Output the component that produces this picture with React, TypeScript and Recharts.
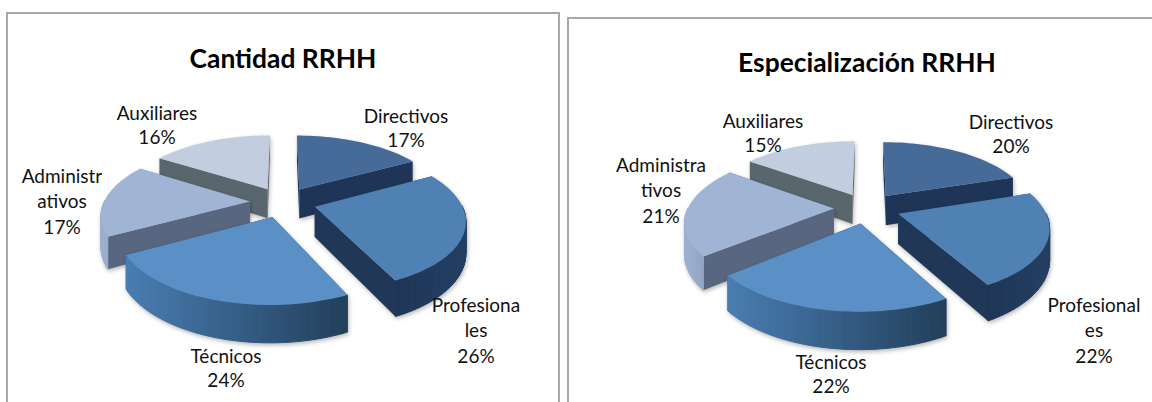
import { Pie, PieChart } from "recharts";

// Two exploded "3D" pies. Recharts only does flat sectors, so each slice is drawn
// by a custom shape that projects the sector's angles onto a tilted plane.

const CATEGORIES = ["Directivos", "Profesionales", "Técnicos", "Administrativos", "Auxiliares"];
const CANTIDAD_VALUES = [17, 26, 24, 17, 16];
const ESPECIALIZACION_VALUES = [20, 22, 22, 21, 15];
const CANTIDAD_LABELS = [["Directivos"], ["Profesiona", "les"], ["Técnicos"], ["Administr", "ativos"], ["Auxiliares"]];
const ESPECIALIZACION_LABELS = [["Directivos"], ["Profesional", "es"], ["Técnicos"], ["Administra", "tivos"], ["Auxiliares"]];

const TOP_COLORS = ["#466b99", "#4f81b5", "#5a90c6", "#a0b4d6", "#c2cde0"];
const EDGE_COLORS = ["#1f3557", "#203758", "#264560", "#58667f", "#5a666d"];
const WALL_LEFT = ["#2a4a70", "#1f3557", "#4a7eb3", "#9db0cf", "#a9b5c8"];
const WALL_RIGHT = ["#2a4a70", "#243f63", "#23405c", "#8497b8", "#a9b5c8"];

// back-to-front, so nearer slices cover the walls of the ones behind
const PAINT_ORDER = [0, 4, 3, 1, 2];

const RADIUS = 146;
const TILT = 0.459;
const PERSPECTIVE = 0.172;
const EXPLODE = 0.226;
const DEPTH = 30;
const RAD = Math.PI / 180;

const hex = (c: string) => [1, 3, 5].map((i) => parseInt(c.slice(i, i + 2), 16));
const mix = (a: string, b: string, t: number) => {
  const ca = hex(a);
  const cb = hex(b);
  return `rgb(${ca.map((v, i) => Math.round(v + (cb[i] - v) * t)).join(",")})`;
};

function project(cx: number, cy: number, mid: number, angle: number, r: number, drop: number) {
  const u = EXPLODE * Math.cos(mid * RAD) + r * Math.cos(angle * RAD);
  const v = -EXPLODE * Math.sin(mid * RAD) - r * Math.sin(angle * RAD);
  const s = 1 / (1 - PERSPECTIVE * v);
  return [cx + RADIUS * u * s, cy + RADIUS * TILT * v * s + DEPTH * s * drop];
}

const toPath = (pts: number[][]) =>
  "M" + pts.map((p) => `${p[0].toFixed(2)},${p[1].toFixed(2)}`).join("L") + "Z";

function Slice({ cx, cy, startAngle, endAngle, index }: any) {
  const mid = (startAngle + endAngle) / 2;
  const apex = project(cx, cy, mid, 0, 0, 0);
  const apexLow = project(cx, cy, mid, 0, 0, 1);
  const angles: number[] = [];
  const steps = Math.ceil(Math.abs(endAngle - startAngle) / 2);
  for (let i = 0; i <= steps; i++) angles.push(startAngle + ((endAngle - startAngle) * i) / steps);

  const rim = angles.map((a) => project(cx, cy, mid, a, 1, 0));
  const rimLow = angles.map((a) => project(cx, cy, mid, a, 1, 1));
  const xs = rim.map((p) => p[0]);
  const minX = Math.min(...xs);
  const maxX = Math.max(...xs);
  const last = rim.length - 1;

  return (
    <g style={{ filter: "drop-shadow(1px 2px 2px rgba(0,0,0,0.28))" }}>
      <path d={toPath([apex, rim[0], rimLow[0], apexLow])} fill={EDGE_COLORS[index]} />
      <path d={toPath([apex, rim[last], rimLow[last], apexLow])} fill={EDGE_COLORS[index]} />
      {angles.slice(0, -1).map((a, i) => {
        if (Math.sin(((a + angles[i + 1]) / 2) * RAD) > 0) return null;
        const t = (rim[i][0] - minX) / (maxX - minX || 1);
        const color = mix(WALL_LEFT[index], WALL_RIGHT[index], t);
        return (
          <path
            key={i}
            d={toPath([rim[i], rim[i + 1], rimLow[i + 1], rimLow[i]])}
            fill={color}
            stroke={color}
            strokeWidth={1}
          />
        );
      })}
      <path d={toPath([apex, ...rim])} fill={TOP_COLORS[index]} />
    </g>
  );
}

function PieLabels({ name, value, cx, cy, lines, at }: any) {
  const i = CATEGORIES.indexOf(name);
  const [dx, dy] = at[i];
  return (
    <text x={cx + dx} y={cy + dy} textAnchor="middle" fontFamily="Lato" fontSize={19} fill="#111">
      {lines[i].map((line: string) => (
        <tspan key={line} x={cx + dx} dy={line === lines[i][0] ? 0 : 24.5}>
          {line}
        </tspan>
      ))}
      <tspan x={cx + dx} dy={lines[i].length > 1 ? 26.5 : 24}>
        {value}%
      </tspan>
    </text>
  );
}

function Panel({ title, titleY, values, lines, left, width, top, cx, cy, at }: any) {
  const data = CATEGORIES.map((name, i) => ({ name, value: values[i] }));
  const common = {
    data,
    dataKey: "value",
    nameKey: "name",
    cx,
    cy,
    outerRadius: RADIUS,
    startAngle: 90,
    endAngle: -270,
    isAnimationActive: false,
    stroke: "none",
  };
  return (
    <div
      style={{
        position: "absolute",
        left,
        top,
        width,
        height: 440,
        boxSizing: "border-box",
        border: "2px solid #a8a8a8",
      }}
    >
      <div
        style={{
          position: "absolute",
          left: -2,
          width,
          top: titleY - top - 2,
          textAlign: "center",
          fontFamily: "Lato",
          fontWeight: 700,
          fontSize: 26.4,
          lineHeight: "31px",
          color: "#000",
        }}
      >
        {title}
      </div>
      <div style={{ position: "absolute", left: -2, top: -2 }}>
        <PieChart width={width} height={440} margin={{ top: 0, right: 0, bottom: 0, left: 0 }}>
          {PAINT_ORDER.map((slice) => (
            <Pie
              key={slice}
              {...common}
              shape={(props: any) =>
                props.name === CATEGORIES[slice] ? <Slice {...props} index={slice} /> : <g />
              }
            />
          ))}
          <Pie
            {...common}
            shape={() => <g />}
            labelLine={false}
            label={(props: any) => (
              <PieLabels name={props.name} value={props.value} cx={cx} cy={cy} lines={lines} at={at} />
            )}
          />
        </PieChart>
      </div>
    </div>
  );
}

// label anchors: first-line baseline relative to the pie centre
const CANTIDAD_AT = [[123, -79], [193, 110], [-57, 161], [-221, -19], [-126, -82]];
const ESPECIALIZACION_AT = [[144, -79], [227, 104], [-36, 161], [-206, -36], [-104, -80]];

export default function App() {
  return (
    <div
      style={{
        position: "fixed",
        left: 0,
        top: 0,
        width: 1152,
        height: 402,
        overflow: "hidden",
        background: "#fff",
      }}
    >
      <Panel
        title="Cantidad RRHH"
        titleY={43}
        values={CANTIDAD_VALUES}
        lines={CANTIDAD_LABELS}
        left={6}
        width={554}
        top={12}
        cx={277}
        cy={190}
        at={CANTIDAD_AT}
      />
      <Panel
        title="Especialización RRHH"
        titleY={47}
        values={ESPECIALIZACION_VALUES}
        lines={ESPECIALIZACION_LABELS}
        left={567}
        width={600}
        top={17}
        cx={300}
        cy={191}
        at={ESPECIALIZACION_AT}
      />
    </div>
  );
}
